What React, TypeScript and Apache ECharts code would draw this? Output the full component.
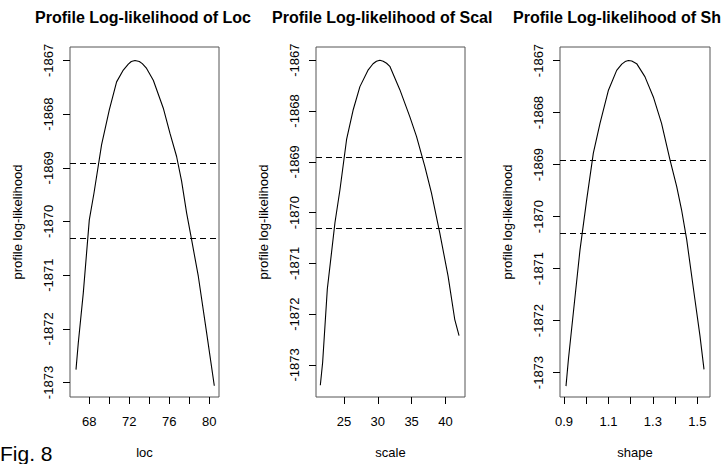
import React, { useEffect, useRef } from "react";
import * as echarts from "echarts";

// Profile log-likelihood curves
const LOC = [66.67, 66.9, 67.4, 68.0, 68.47, 69.23, 70.0, 70.73, 71.4, 71.9, 72.2, 72.57, 73.0, 73.3, 73.73, 74.4, 75.4, 76.07, 76.73, 77.23, 77.73, 78.23, 78.9, 79.73, 80.5];
const LOC_LL = [-1872.76, -1872.26, -1871.33, -1869.97, -1869.47, -1868.57, -1867.92, -1867.4, -1867.18, -1867.07, -1867.02, -1867.0, -1867.02, -1867.06, -1867.15, -1867.37, -1867.89, -1868.36, -1868.79, -1869.25, -1869.84, -1870.34, -1871.02, -1872.07, -1873.06];

const SCALE = [21.51, 21.85, 22.54, 23.67, 24.41, 25.39, 26.38, 27.36, 28.59, 29.3, 29.8, 30.31, 30.8, 31.3, 31.78, 33.26, 34.73, 35.72, 36.95, 37.93, 39.16, 40.39, 41.37, 42.01];
const SCALE_LL = [-1873.4, -1872.95, -1871.51, -1870.2, -1869.55, -1868.56, -1867.97, -1867.52, -1867.19, -1867.07, -1867.02, -1867.0, -1867.02, -1867.06, -1867.12, -1867.58, -1868.11, -1868.5, -1869.09, -1869.61, -1870.4, -1871.25, -1872.1, -1872.42];

const SHAPE = [0.909, 0.92, 0.942, 0.972, 1.002, 1.032, 1.062, 1.1, 1.137, 1.16, 1.175, 1.19, 1.205, 1.227, 1.264, 1.302, 1.339, 1.377, 1.407, 1.429, 1.452, 1.489, 1.512, 1.53];
const SHAPE_LL = [-1873.26, -1872.74, -1871.85, -1870.64, -1869.68, -1868.78, -1868.21, -1867.57, -1867.19, -1867.07, -1867.02, -1867.0, -1867.01, -1867.06, -1867.31, -1867.7, -1868.21, -1868.91, -1869.42, -1869.87, -1870.44, -1871.59, -1872.3, -1872.94];

// Confidence cut-off lines
const LOC_CUT = [-1868.91, -1870.32];
const SCALE_CUT = [-1868.92, -1870.31];
const SHAPE_CUT = [-1868.92, -1870.33];

// Tick values and labels
const Y_TICKS = [-1873, -1872, -1871, -1870, -1869, -1868, -1867];
const LOC_TICKS = [68, 70, 72, 74, 76, 78, 80];
const LOC_LABELS = [68, 72, 76, 80];
const SCALE_TICKS = [25, 30, 35, 40];
const SCALE_LABELS = [25, 30, 35, 40];
const SHAPE_TICKS = [0.9, 1.0, 1.1, 1.2, 1.3, 1.4, 1.5];
const SHAPE_LABELS = [0.9, 1.1, 1.3, 1.5];

const TITLES = [
  "Profile Log-likelihood of Loc",
  "Profile Log-likelihood of Scal",
  "Profile Log-likelihood of Sh",
];
const X_NAMES = ["loc", "scale", "shape"];
const Y_NAME = "profile log-likelihood";

const FONT = "'Liberation Sans', Arial, sans-serif";

export default function App() {
  const ref = useRef<HTMLDivElement>(null);

  useEffect(() => {
    if (!ref.current) return;
    const chart = echarts.init(ref.current, undefined, { renderer: "svg" });

    const panels = [
      { xs: LOC, ys: LOC_LL, cut: LOC_CUT, ticks: LOC_TICKS, labels: LOC_LABELS, xmin: 66.07, xmax: 80.97, ymin: -1873.27, ymax: -1866.75, left: 70, width: 149, titleLeft: 35 },
      { xs: SCALE, ys: SCALE_LL, cut: SCALE_CUT, ticks: SCALE_TICKS, labels: SCALE_LABELS, xmin: 20.87, xmax: 42.89, ymin: -1873.63, ymax: -1866.74, left: 316, width: 149, titleLeft: 272 },
      { xs: SHAPE, ys: SHAPE_LL, cut: SHAPE_CUT, ticks: SHAPE_TICKS, labels: SHAPE_LABELS, xmin: 0.882, xmax: 1.557, ymin: -1873.47, ymax: -1866.74, left: 560, width: 150, titleLeft: 513 },
    ];

    const textStyle = { fontFamily: FONT, fontSize: 13, color: "#000" };

    const option: any = {
      animation: false,
      backgroundColor: "#fff",
      title: panels.map((p, i) => ({
        text: TITLES[i],
        left: p.titleLeft,
        top: 9,
        padding: 0,
        textStyle: { fontFamily: FONT, fontSize: 16, fontWeight: "bold", color: "#000" },
      })),
      grid: panels.map((p) => ({
        left: p.left,
        top: 47,
        width: p.width,
        height: 351,
        show: true,
        borderColor: "#555",
        borderWidth: 1,
        backgroundColor: "transparent",
      })),
      xAxis: panels.map((p, i) => ({
        type: "value",
        gridIndex: i,
        min: p.xmin,
        max: p.xmax,
        name: X_NAMES[i],
        nameLocation: "middle",
        nameGap: 49,
        nameTextStyle: textStyle,
        axisLine: { show: false },
        splitLine: { show: false },
        axisTick: {
          show: true,
          inside: false,
          length: 7,
          customValues: p.ticks,
          lineStyle: { color: "#000", width: 1 },
        },
        axisLabel: {
          show: true,
          margin: 18,
          customValues: p.labels,
          formatter: (v: number) => (i === 2 ? v.toFixed(1) : String(v)),
          ...textStyle,
        },
      })),
      yAxis: panels.map((p, i) => ({
        type: "value",
        gridIndex: i,
        min: p.ymin,
        max: p.ymax,
        name: Y_NAME,
        nameLocation: "middle",
        nameGap: 46,
        nameTextStyle: textStyle,
        axisLine: { show: false },
        splitLine: { show: false },
        axisTick: {
          show: true,
          inside: false,
          length: 7,
          customValues: Y_TICKS,
          lineStyle: { color: "#000", width: 1 },
        },
        axisLabel: {
          show: true,
          rotate: 90,
          margin: 15,
          customValues: Y_TICKS,
          formatter: (v: number) => String(Math.round(v)),
          ...textStyle,
        },
      })),
      series: panels.map((p, i) => ({
        type: "line",
        xAxisIndex: i,
        yAxisIndex: i,
        data: p.xs.map((x, k) => [x, p.ys[k]]),
        showSymbol: false,
        symbol: "none",
        smooth: false,
        lineStyle: { color: "#000", width: 1.1 },
        markLine: {
          silent: true,
          symbol: "none",
          label: { show: false },
          lineStyle: { color: "#000", width: 1.1, type: [6, 4] },
          data: p.cut.map((c) => ({ yAxis: c })),
        },
      })),
      graphic: [
        {
          type: "text",
          left: 0,
          top: 443,
          style: { text: "Fig. 8", fontFamily: FONT, fontSize: 21, fill: "#000" },
        },
      ],
    };

    chart.setOption(option);
    return () => chart.dispose();
  }, []);

  return (
    <div
      ref={ref}
      style={{ position: "fixed", left: 0, top: 0, width: 728, height: 464, background: "#fff" }}
    />
  );
}
